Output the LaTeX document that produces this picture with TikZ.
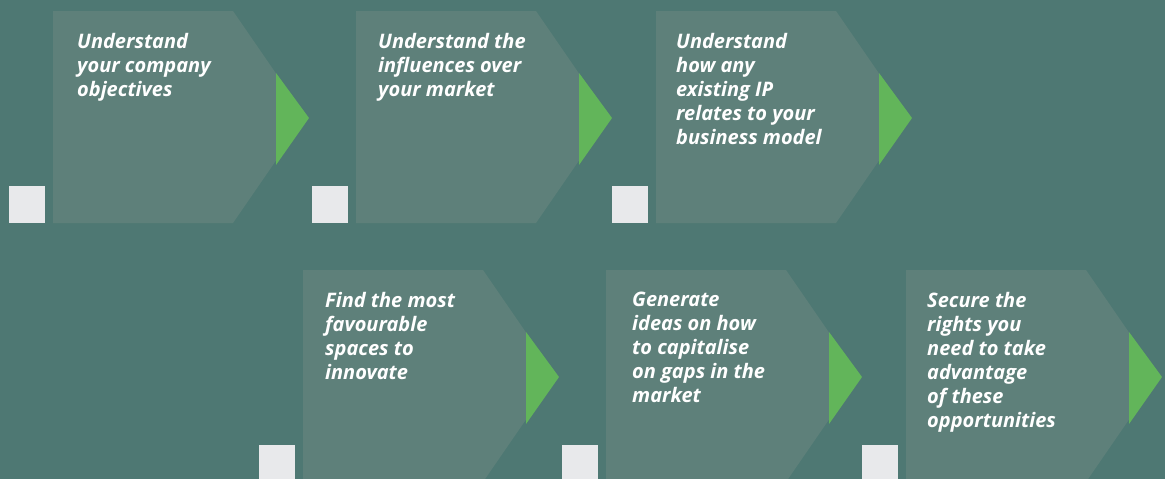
\documentclass[tikz,border=0pt]{standalone}
\usepackage{fontspec}
\setmainfont{Open Sans}
\definecolor{bgteal}{RGB}{78,120,115}
\definecolor{panelteal}{RGB}{94,128,122}
\definecolor{tipgreen}{RGB}{98,181,90}
\definecolor{sqgrey}{RGB}{232,233,235}
\tikzset{
    panel/.style={fill=panelteal},
    tipmark/.style={fill=tipgreen},
    sqbox/.style={fill=sqgrey},
    steptext/.style={anchor=north west, inner sep=0pt, align=left, text=white,
        font=\fontsize{20}{24}\selectfont\bfseries\itshape}
}
% one step: name, left x, top y, text indent, text
\newcommand{\stepitem}[5]{
    \fill[panel] (#2,#3) -- ++(180,0) -- ++(73,106) -- ++(-73,106) -- ++(-180,0) -- cycle;
    \fill[tipmark] (#2+223,#3+62) -- (#2+256,#3+107) -- (#2+223,#3+154) -- cycle;
    \fill[sqbox] (#2-44,#3+175) rectangle (#2-8,#3+212);
    \node[steptext] (step#1) at (#2+#4,#3+22) {#5};
}
\begin{document}
\begin{tikzpicture}[x=1pt,y=-1pt]
        \useasboundingbox (0,0) rectangle (1165,479);
        \fill[bgteal] (0,0) rectangle (1165,479);
        \stepitem{1}{53}{11}{24}{Understand\\your company\\objectives}
        \stepitem{2}{356}{11}{22}{Understand the\\influences over\\your market}
        \stepitem{3}{656}{11}{20}{Understand\\how any\\existing IP\\relates to your\\business model}
        \stepitem{4}{303}{270}{22}{Find the most\\favourable\\spaces to\\innovate}
        \stepitem{5}{606}{270}{26}{Generate\\ideas on how\\to capitalise\\on gaps in the\\market}
        \stepitem{6}{906}{270}{21}{Secure the\\rights you\\need to take\\advantage\\of these\\opportunities}
    \end{tikzpicture}
\end{document}
